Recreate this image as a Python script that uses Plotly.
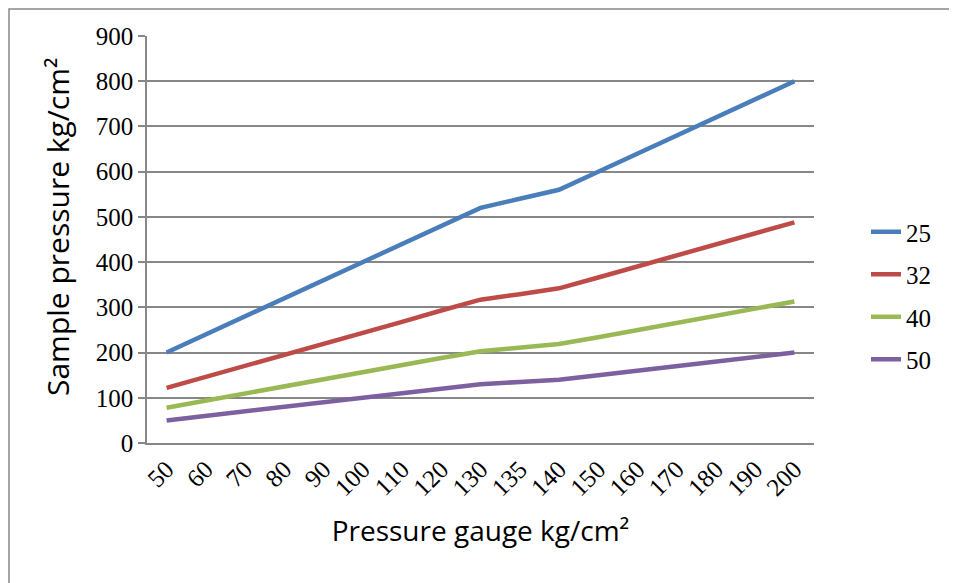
import plotly.graph_objects as go

categories = ["50", "60", "70", "80", "90", "100", "110", "120", "130", "135",
              "140", "150", "160", "170", "180", "190", "200"]
s25 = [200, 240, 280, 320, 360, 400, 440, 480, 520, 540, 560, 600, 640, 680, 720, 760, 800]
s32 = [122, 146, 171, 195, 220, 244, 268, 293, 317, 329, 342, 366, 390, 415, 439, 464, 488]
s40 = [78, 94, 109, 125, 141, 156, 172, 188, 203, 211, 219, 234, 250, 266, 281, 297, 313]
s50 = [50, 60, 70, 80, 90, 100, 110, 120, 130, 135, 140, 150, 160, 170, 180, 190, 200]
series_names = ["25", "32", "40", "50"]
colors = ["#4A7EBB", "#BE4B48", "#98B954", "#7D60A0"]

# page body has an 8px margin, so the figure is offset by 8px
W, H = 949, 575
L, R, T, B = 139, 143, 28, 140
pw, ph = W - L - R, H - T - B

fig = go.Figure()
for name, vals, c in zip(series_names, [s25, s32, s40, s50], colors):
    fig.add_trace(go.Scatter(x=categories, y=vals, mode="lines", name=name,
                             legendgroup=name,
                             line=dict(color=c, width=4.5)))

grid = "#878787"
serif = "'Liberation Serif', 'DejaVu Serif', serif"
tickfont = dict(family=serif, size=25, color="#000000")

fig.update_layout(
    width=W, height=H,
    margin=dict(l=L, r=R, t=T, b=B),
    paper_bgcolor="white", plot_bgcolor="white",
    showlegend=True,
    legend=dict(x=(858 - L) / pw, y=(T + ph - 201) / ph, xanchor="left", yanchor="top",
                font=tickfont, tracegroupgap=7, traceorder="grouped",
                bgcolor="rgba(0,0,0,0)"),
    xaxis=dict(type="category", showgrid=False, showline=True, linecolor=grid,
               linewidth=1.5, ticks="", tickangle=-45, tickfont=tickfont,
               title=dict(text="Pressure gauge kg/cm²",
                          font=dict(family="Open Sans", size=28, color="#000000"),
                          standoff=21),
               range=[-0.5, 16.5], fixedrange=True),
    yaxis=dict(range=[0, 900], dtick=100, showgrid=True, gridcolor=grid, gridwidth=1.5,
               showline=True, linecolor=grid, linewidth=1.5, ticks="outside",
               ticklen=7, tickcolor=grid, tickwidth=1.5, tickfont=tickfont,
               zeroline=False),
)

fig.add_annotation(text="Sample pressure kg/cm²", textangle=-90, showarrow=False,
                   xref="paper", yref="paper",
                   x=(49 - L) / pw, y=(T + ph - 219) / ph,
                   xanchor="center", yanchor="middle",
                   font=dict(family="Open Sans", size=30, color="#000000"))

fig.add_shape(type="rect", xref="paper", yref="paper",
              x0=(1 - L) / pw, x1=(942 - L) / pw,
              y0=(T + ph - 620) / ph, y1=(T + ph - 1) / ph,
              line=dict(color="#888888", width=1.5), fillcolor="rgba(0,0,0,0)", layer="below")

fig.write_html("out.html")
